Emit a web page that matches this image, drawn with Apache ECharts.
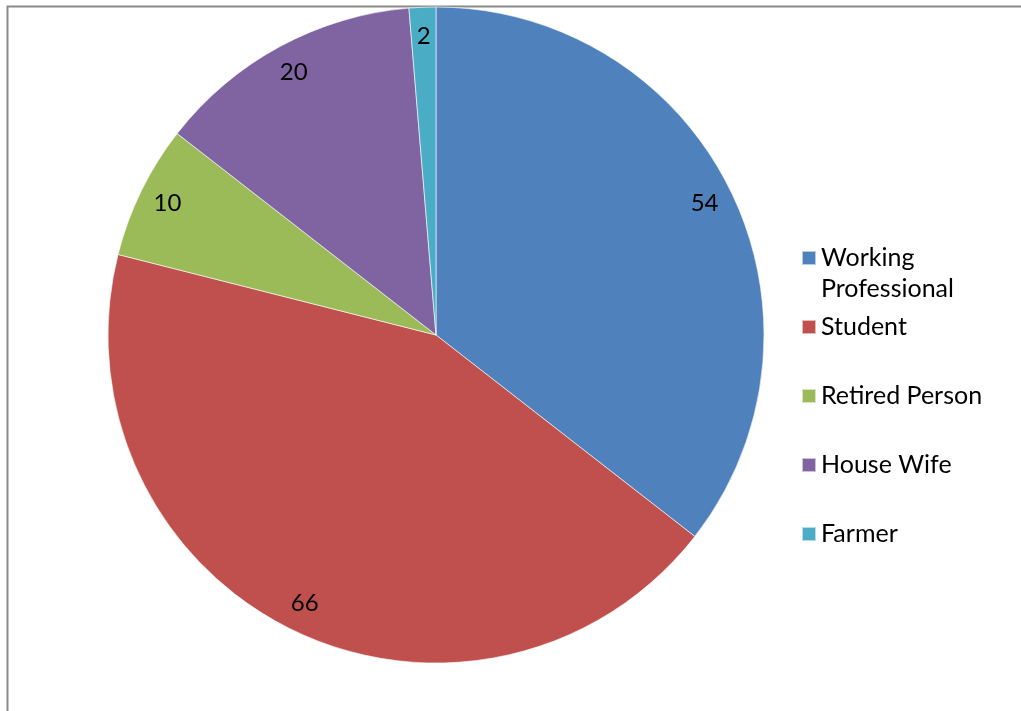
<!DOCTYPE html>
<html>
<head>
<meta charset="utf-8">
<script src="https://cdn.jsdelivr.net/npm/echarts@6/dist/echarts.min.js"></script>
<style>
  html, body { margin: 0; padding: 0; background: #fff; }
  #chart { width: 1021px; height: 711px; }
</style>
</head>
<body>
<div id="chart"></div>
<script>
var categories = ['Working Professional', 'Student', 'Retired Person', 'House Wife', 'Farmer'];
var values = [54, 66, 10, 20, 2];
var colors = ['#4F81BD', '#C0504D', '#9BBB59', '#8064A2', '#4BACC6'];
// leading blank line keeps "Working" level with the icon
var legendLabels = [' \nWorking\nProfessional', 'Student', 'Retired Person', 'House Wife', 'Farmer'];

var myChart = echarts.init(document.getElementById('chart'));

var pieData = [];
for (var i = 0; i < categories.length; i++) {
  pieData.push({name: categories[i], value: values[i]});
}

// one legend per item so each one sits where the reference has it
var legendCenters = [258, 327, 396, 465, 534];
var legends = [];
for (var j = 0; j < categories.length; j++) {
  var lines = legendLabels[j].split('\n').length;
  legends.push({
    data: [categories[j]],
    left: 801,
    top: legendCenters[j] - lines * 31 / 2,
    padding: 0,
    itemWidth: 14,
    itemHeight: 14,
    icon: 'rect',
    selectedMode: false,
    formatter: function (name) {
      return legendLabels[categories.indexOf(name)];
    },
    textStyle: {
      fontFamily: 'Lato',
      fontSize: 25,
      color: '#000',
      lineHeight: 31
    }
  });
}

var option = {
  animation: false,
  backgroundColor: '#fff',
  color: colors,
  graphic: [{
    type: 'rect',
    z: -1,
    shape: {x: 7.5, y: 6.5, width: 1100, height: 800},
    style: {fill: 'none', stroke: '#898989', lineWidth: 2}
  }],
  legend: legends,
  series: [
    {
      name: 'main',
      type: 'pie',
      center: [436, 335],
      radius: [0, 328],
      startAngle: 90,
      clockwise: true,
      silent: true,
      itemStyle: {borderColor: 'rgba(255,255,255,0.6)', borderWidth: 1},
      label: {show: false},
      labelLine: {show: false},
      data: pieData
    },
    {
      // transparent ring only used to place the value labels near the rim
      name: 'labels',
      type: 'pie',
      center: [436, 335],
      radius: [264, 328],
      startAngle: 90,
      clockwise: true,
      silent: true,
      legendHoverLink: false,
      itemStyle: {color: 'rgba(0,0,0,0)', borderWidth: 0},
      label: {
        show: true,
        position: 'inside',
        formatter: '{c}',
        fontFamily: 'Lato',
        fontSize: 24,
        color: '#000'
      },
      labelLine: {show: false},
      data: pieData
    }
  ]
};

myChart.setOption(option);
window.addEventListener('resize', function () { myChart.resize(); });
</script>
</body>
</html>
